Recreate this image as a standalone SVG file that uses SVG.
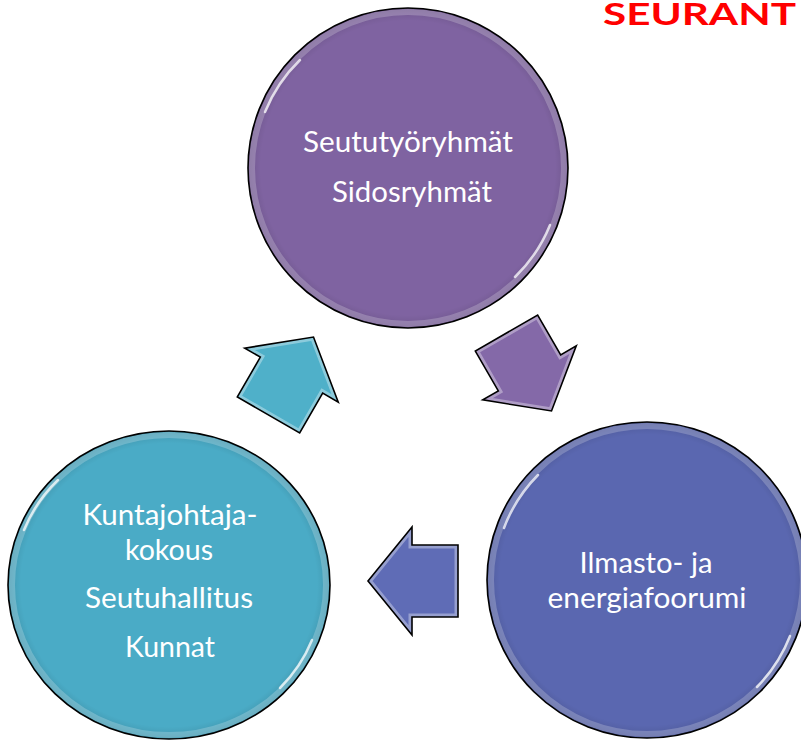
<svg xmlns="http://www.w3.org/2000/svg" width="801" height="741" viewBox="0 0 801 741">
<style>
.lbl{font-family:Lato,"Open Sans","Liberation Sans",sans-serif;font-size:29px;fill:#ffffff;text-anchor:middle}
.ttl{font-family:Lato,"Liberation Sans",sans-serif;font-weight:bold;font-size:30px;fill:#ff0000}
.edge{fill:none;stroke:#000;stroke-width:1.6}
.rim{fill:none;stroke:#ffffff;stroke-opacity:0.22;stroke-width:6}
.hl{fill:none;stroke:#ffffff;stroke-opacity:0.75;stroke-width:2.5;stroke-linecap:round}
.abev{fill:none;stroke:#ffffff;stroke-opacity:0.35;stroke-width:7}
</style>
<defs>
<radialGradient id="shade" cx="0.5" cy="0.5" r="0.5">
<stop offset="0" stop-color="#000" stop-opacity="0"/>
<stop offset="0.92" stop-color="#000" stop-opacity="0"/>
<stop offset="1" stop-color="#000" stop-opacity="0.12"/>
</radialGradient>
<path id="arr" d="M-45,-36 L1,-36 L1,-54 L45,0 L1,54 L1,36 L-45,36 Z"/>
<clipPath id="arrClip"><use href="#arr"/></clipPath>
</defs>

<text class="ttl" x="603" y="25" textLength="193" lengthAdjust="spacingAndGlyphs">SEURANT</text>

<g id="connectors">
<g id="arrow-left-top" transform="translate(291,376) rotate(-60)">
<use href="#arr" fill="#4FB0C9"/>
<use href="#arr" class="abev" clip-path="url(#arrClip)"/>
<use href="#arr" class="edge"/>
</g>
<g id="arrow-top-right" transform="translate(529,372) rotate(60)">
<use href="#arr" fill="#8469A8"/>
<use href="#arr" class="abev" clip-path="url(#arrClip)"/>
<use href="#arr" class="edge"/>
</g>
<g id="arrow-right-left" transform="translate(413,581) rotate(180)">
<use href="#arr" fill="#5F6CB6"/>
<use href="#arr" class="abev" clip-path="url(#arrClip)"/>
<use href="#arr" class="edge"/>
</g>
</g>

<g id="node-top">
<circle cx="408" cy="168" r="160" fill="#7F63A1"/>
<circle cx="408" cy="168" r="160" fill="url(#shade)"/>
<circle cx="408" cy="168" r="156" class="rim"/>
<path class="hl" d="M 265 112 A 153 153 0 0 1 300 60"/>
<path class="hl" d="M 550 225 A 153 153 0 0 1 515 277"/>
<circle cx="408" cy="168" r="160" class="edge"/>
<text class="lbl" x="408" y="152" textLength="210" lengthAdjust="spacingAndGlyphs">Seututyöryhmät</text>
<text class="lbl" x="412" y="202" textLength="160" lengthAdjust="spacingAndGlyphs">Sidosryhmät</text>
</g>

<g id="node-left">
<ellipse cx="169" cy="585" rx="161" ry="154" fill="#4AABC6"/>
<ellipse cx="169" cy="585" rx="161" ry="154" fill="url(#shade)"/>
<ellipse cx="169" cy="585" rx="157" ry="150" class="rim"/>
<path class="hl" d="M 24 530 A 154 147 0 0 1 58 480"/>
<path class="hl" d="M 312 640 A 154 147 0 0 1 280 688"/>
<ellipse cx="169" cy="585" rx="161" ry="154" class="edge"/>
<text class="lbl" x="170" y="525" textLength="175" lengthAdjust="spacingAndGlyphs">Kuntajohtaja-</text>
<text class="lbl" x="169" y="560" textLength="88" lengthAdjust="spacingAndGlyphs">kokous</text>
<text class="lbl" x="169" y="608" textLength="168" lengthAdjust="spacingAndGlyphs">Seutuhallitus</text>
<text class="lbl" x="170" y="657" textLength="90" lengthAdjust="spacingAndGlyphs">Kunnat</text>
</g>

<g id="node-right">
<ellipse cx="647" cy="580" rx="160" ry="158" fill="#5A67B0"/>
<ellipse cx="647" cy="580" rx="160" ry="158" fill="url(#shade)"/>
<ellipse cx="647" cy="580" rx="156" ry="154" class="rim"/>
<path class="hl" d="M 504 528 A 153 151 0 0 1 538 475"/>
<path class="hl" d="M 790 636 A 153 151 0 0 1 757 687"/>
<ellipse cx="647" cy="580" rx="160" ry="158" class="edge"/>
<text class="lbl" x="646" y="573" textLength="133" lengthAdjust="spacingAndGlyphs">Ilmasto- ja</text>
<text class="lbl" x="647" y="608" textLength="199" lengthAdjust="spacingAndGlyphs">energiafoorumi</text>
</g>
</svg>
